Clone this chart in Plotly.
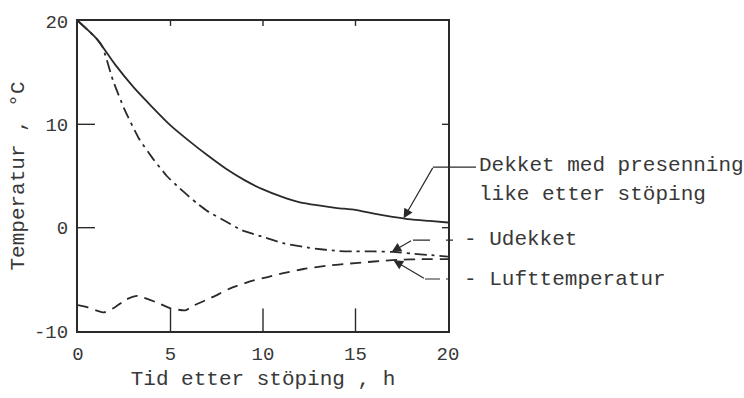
import numpy as np
import plotly.graph_objects as go

# Concrete temperature after casting (deg C) vs. hours after casting
t_dekket = [0, 1, 2, 3, 4, 5, 6, 7, 8, 9, 10, 11, 12, 13, 14, 15, 16, 17, 18, 19, 20]
dekket = [20, 18.3, 15.8, 13.6, 11.7, 9.9, 8.4, 7.0, 5.7, 4.6, 3.7, 3.0, 2.45, 2.15,
          1.9, 1.72, 1.35, 1.05, 0.8, 0.65, 0.5]

t_udekket = [0, 1, 1.3, 1.9, 2.5, 3.3, 4, 4.8, 5.5, 6.4, 7, 8, 8.8, 10, 11.1, 12.5,
             14, 15, 16, 17, 18, 19, 20]
udekket = [20, 18.3, 17.6, 14.2, 11.5, 8.6, 6.8, 5.0, 3.8, 2.4, 1.6, 0.6, -0.2, -0.9,
           -1.5, -1.95, -2.25, -2.3, -2.3, -2.35, -2.5, -2.65, -2.8]

t_luft = [0, 0.5, 1.4, 2, 2.6, 3.2, 4.2, 5, 5.8, 6.3, 7.3, 8.2, 9.3, 10.2, 11.1, 12.2,
          13.4, 14.5, 15.5, 16.5, 17.5, 18.5, 20]
luft = [-7.5, -7.7, -8.2, -7.7, -6.95, -6.6, -7.2, -7.8, -8.0, -7.5, -6.7, -5.9, -5.2,
        -4.8, -4.4, -4.0, -3.7, -3.5, -3.35, -3.2, -3.1, -3.05, -3.05]

x_ticks = [0, 5, 10, 15, 20]
y_ticks = [-10, 0, 10, 20]
y_ticktext = ["-10", "0", "10", "20"]
inner_x_ticks = [5, 10, 15]
inner_y_ticks = [0, 10]

labels = ["Dekket med presenning", "like etter stöping", "Udekket", "Lufttemperatur"]

X_RANGE = [0, 20]
Y_RANGE = [-10, 20]

# page geometry
W, H = 744, 398
ML, MR, MT, MB = 78, 296, 19, 63
PW, PH = W - ML - MR, H - MT - MB

FONT = "Liberation Mono"
INK = "#2a2a2a"
TXT = "#383838"


def px(x):
    return (x - ML) / PW


def py(y):
    return (H - MB - y) / PH


# pixel lengths expressed in axis units
XU = (X_RANGE[1] - X_RANGE[0]) / PW
YU = (Y_RANGE[1] - Y_RANGE[0]) / PH

fig = go.Figure()
fig.add_trace(go.Scatter(x=t_dekket, y=dekket, mode="lines",
                         line=dict(color=INK, width=1.8, shape="spline", smoothing=0.6),
                         hoverinfo="skip", showlegend=False))
fig.add_trace(go.Scatter(x=t_udekket, y=udekket, mode="lines",
                         line=dict(color=INK, width=1.8, dash="12px,5px,3px,5px",
                                   shape="spline", smoothing=0.5),
                         hoverinfo="skip", showlegend=False))
fig.add_trace(go.Scatter(x=t_luft, y=luft, mode="lines",
                         line=dict(color=INK, width=1.8, dash="11px,7px",
                                   shape="spline", smoothing=0.5),
                         hoverinfo="skip", showlegend=False))

tick_font = dict(family=FONT, size=19, color=TXT)
title_font = dict(family=FONT, size=21, color=TXT)

fig.update_layout(
    width=W, height=H, autosize=False,
    margin=dict(l=ML, r=MR, t=MT, b=MB),
    paper_bgcolor="white", plot_bgcolor="white",
    xaxis=dict(range=X_RANGE, tickmode="array", tickvals=x_ticks, ticks="",
               showline=True, linewidth=2, linecolor=INK, mirror=True,
               showgrid=False, zeroline=False, tickfont=tick_font,
               ticklabelstandoff=4,
               title=dict(text="Tid etter stöping , h", font=title_font, standoff=6)),
    yaxis=dict(range=Y_RANGE, tickmode="array", tickvals=y_ticks,
               ticktext=y_ticktext, ticks="", showline=True, linewidth=2,
               linecolor=INK, mirror=True, showgrid=False, zeroline=False,
               tickfont=tick_font, ticklabelstandoff=4,
               title=dict(text="Temperatur , °C", font=title_font, standoff=4)),
)

# inward tick marks on all four sides of the frame:
# long ones on the bottom/left, short ones on the top/right
tick_line = dict(color=INK, width=1.4)
for v in inner_x_ticks:
    fig.add_shape(type="line", xref="x", yref="y", layer="above",
                  x0=v, x1=v, y0=Y_RANGE[0], y1=Y_RANGE[0] + 23 * YU, line=tick_line)
    fig.add_shape(type="line", xref="x", yref="y", layer="above",
                  x0=v, x1=v, y0=Y_RANGE[1], y1=Y_RANGE[1] - 5 * YU, line=tick_line)
for v in inner_y_ticks:
    fig.add_shape(type="line", xref="x", yref="y", layer="above",
                  x0=X_RANGE[0], x1=X_RANGE[0] + 17 * XU, y0=v, y1=v, line=tick_line)
    fig.add_shape(type="line", xref="x", yref="y", layer="above",
                  x0=X_RANGE[1], x1=X_RANGE[1] - 6 * XU, y0=v, y1=v, line=tick_line)

# arrows pointing at the curves, tips taken from the series themselves
arrow_specs = [
    (17.6, t_dekket, dekket, 30, -52),
    (16.95, t_udekket, udekket, 21, -12),
    (17.05, t_luft, luft, 32, 19),
]
for tt, xs, ys, ax, ay in arrow_specs:
    fig.add_annotation(x=tt, y=float(np.interp(tt, xs, ys)), xref="x", yref="y",
                       text="", showarrow=True, arrowhead=2, arrowsize=1.6,
                       arrowwidth=1.2, arrowcolor=INK, ax=ax, ay=ay, standoff=0)

# horizontal leader lines out to the labels
leaders = [
    (433, 476, 168, "solid"),
    (413, 455, 242.3, "17px,16px,7px,100px"),
    (425, 450, 282, "15px,6px,2px,100px"),
]
for x0, x1, y0, dash in leaders:
    fig.add_shape(type="line", xref="paper", yref="paper",
                  x0=px(x0), x1=px(x1), y0=py(y0), y1=py(y0),
                  line=dict(color=INK, width=1.2, dash=dash))

label_font = dict(family=FONT, size=21, color=TXT)
label_pos = [(477, 166, labels[0]), (477, 196, labels[1]),
             (462, 242, "- " + labels[2]), (462, 282, "- " + labels[3])]
for x0, y0, txt in label_pos:
    fig.add_annotation(x=px(x0), y=py(y0), xref="paper", yref="paper", text=txt,
                       showarrow=False, xanchor="left", yanchor="middle",
                       font=label_font)

fig.write_html("out.html")
